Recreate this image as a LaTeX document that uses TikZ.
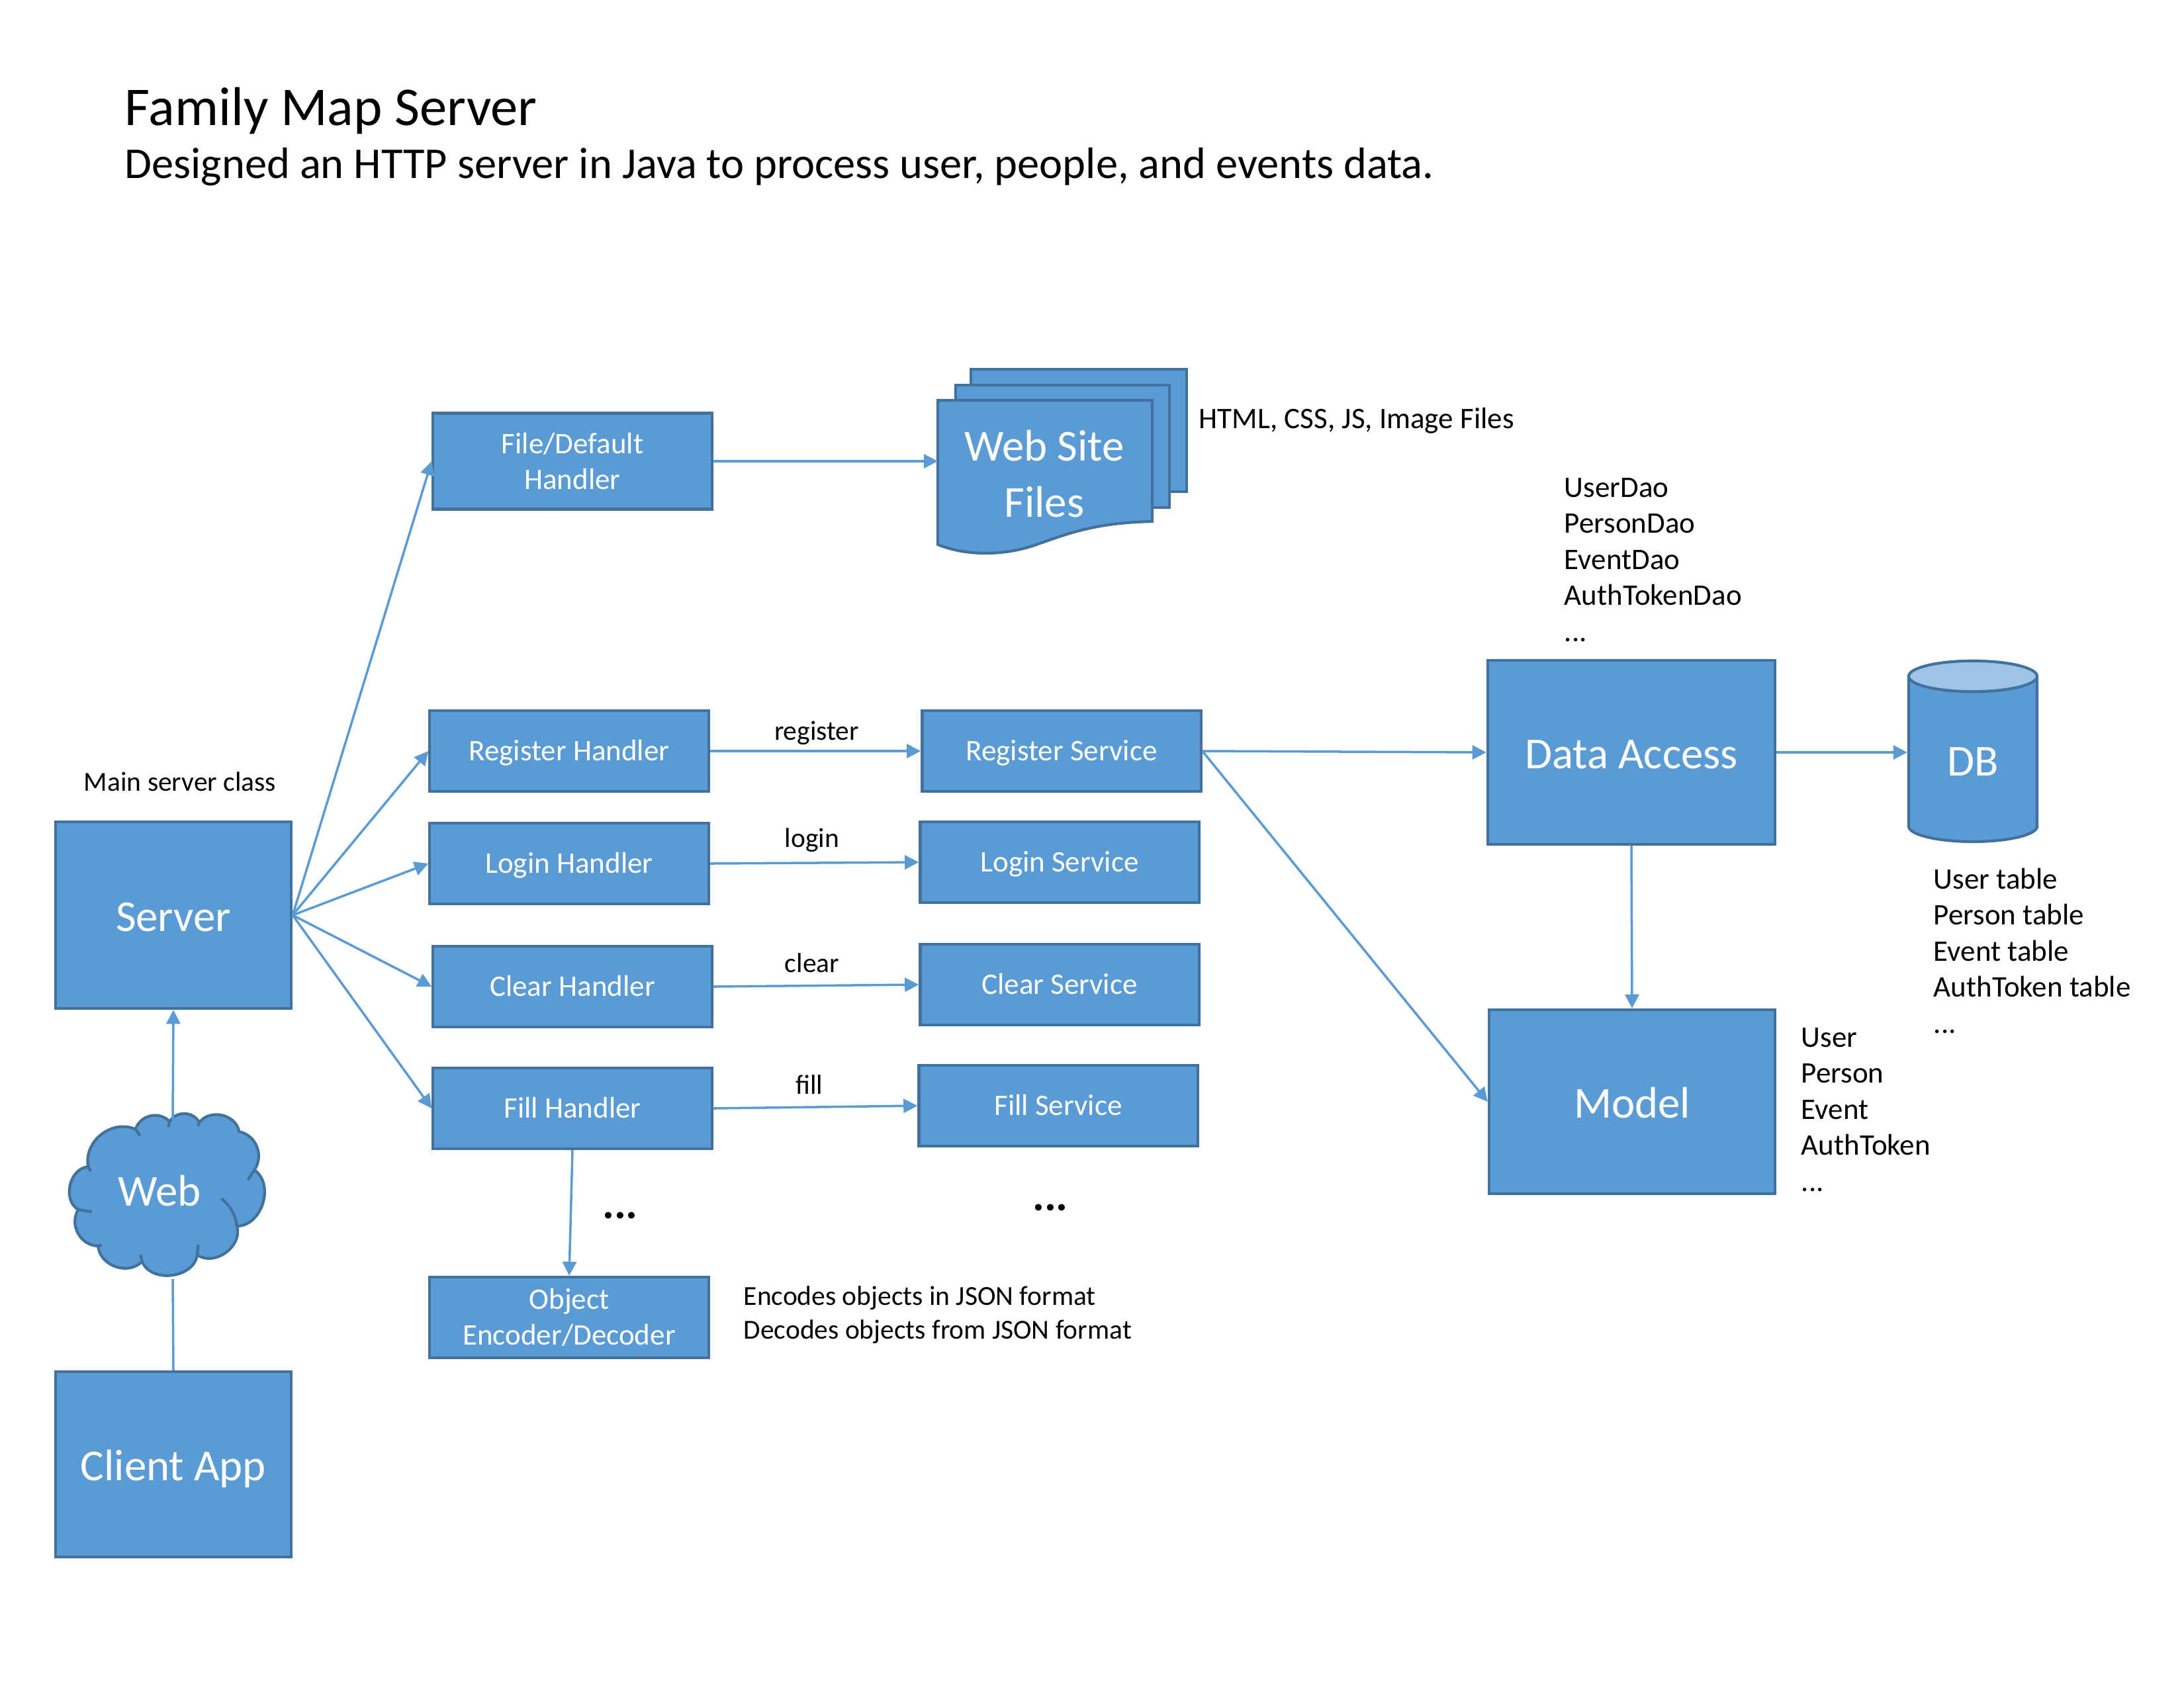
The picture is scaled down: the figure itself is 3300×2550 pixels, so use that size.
\documentclass[tikz,border=0pt]{standalone}
\usepackage{fontspec}
\setmainfont{Carlito}
\usetikzlibrary{arrows.meta,shapes.geometric}
\definecolor{box_blue}{RGB}{91,155,213}
\definecolor{edge_blue}{RGB}{65,113,156}
\definecolor{top_blue}{RGB}{157,195,230}
\newcommand{\bigfont}{\fontsize{19}{24}\selectfont}
\newcommand{\boxfont}{\fontsize{12.8}{15.5}\selectfont}
\newcommand{\notefont}{\fontsize{11.8}{14.4}\selectfont}

\begin{document}
\begin{tikzpicture}[->,line width=1pt,>={Triangle[length=6pt,width=6pt]},x=0.01cm,y=-0.01cm]
    \tikzstyle{base}=[draw=edge_blue, line width=1.2pt, fill=box_blue, text=white, inner sep=0pt]
    \tikzstyle{big}=[style=base, font=\bigfont, text height=13.7pt, text depth=0pt]
    \tikzstyle{small}=[style=base, font=\boxfont, align=center, minimum width=4.21cm, minimum height=1.22cm]
    \tikzstyle{one}=[style=base, font=\boxfont, minimum width=4.21cm, minimum height=1.22cm, text height=8pt, text depth=0pt]
    \tikzstyle{label}=[text=black, font=\boxfont, align=left, inner sep=0pt]
    \tikzstyle{flow}=[box_blue]
    \tikzstyle{sheet}=[-, draw=edge_blue, line width=1.2pt, fill=box_blue]

    \useasboundingbox (0,0) rectangle (3300,2550);

    \node[label, anchor=west, font=\fontsize{23.5}{28}\selectfont] (title) at (187,167) {Family Map Server};
    \node[label, anchor=west, font=\fontsize{18.9}{23}\selectfont] (subtitle) at (187,252) {Designed an HTTP server in Java to process user, people, and events data.};

    \node[big, minimum width=3.56cm, minimum height=2.82cm] (server) at (262,1383) {Server};
    \node[big, minimum width=3.56cm, minimum height=2.80cm] (client) at (262,2213) {Client App};
    \node[label, font=\notefont] (mainlabel) at (272,1181) {Main server class};

    % handlers
    \node[small, minimum height=1.45cm] (file) at (865,697) {File/Default\\Handler};
    \node[one] (regh) at (860,1135) {Register Handler};
    \node[one] (logh) at (860,1305) {Login Handler};
    \node[one] (clrh) at (865,1491) {Clear Handler};
    \node[one] (filh) at (865,1675) {Fill Handler};
    \node[small] (obj) at (860,1991) {Object\\Encoder/Decoder};

    % services
    \node[one] (regs) at (1604,1135) {Register Service};
    \node[one] (logs) at (1601,1303) {Login Service};
    \node[one] (clrs) at (1601,1488) {Clear Service};
    \node[one] (fils) at (1599,1671) {Fill Service};

    \node[big, minimum width=4.34cm, minimum height=2.78cm] (data) at (2465,1137) {Data Access};
    \node[big, minimum width=4.32cm, minimum height=2.78cm] (model) at (2466,1665) {Model};
    \node[big, cylinder, fill=none, shape border rotate=90, aspect=0.6, cylinder uses custom fill,
          cylinder body fill=box_blue, cylinder end fill=top_blue,
          minimum width=1.94cm, minimum height=2.73cm] (db) at (2981,1148) {DB};

    % web site files, three sheets
    \draw[sheet] (1467,558) -- (1793,558) -- (1793,743) -- (1467,743) -- cycle;
    \draw[sheet] (1444,582) -- (1767,582) -- (1767,767) -- (1444,767) -- cycle;
    \draw[sheet] (1417,605) -- (1741,605) -- (1741,788)
      .. controls (1650,790) and (1610,808) .. (1560,825)
      .. controls (1520,838) and (1465,842) .. (1417,823) -- cycle;
    \node[text=white, font=\bigfont, align=center, inner sep=0pt] (site) at (1578,716) {Web Site\\Files};
    \coordinate (sitewest) at (1417,697);

    % cloud, traced in a scope of its own
    \begin{scope}[shift={(50,1650)},x=0.00333cm,y=-0.00333cm]
      \draw[sheet, looseness=1.1]
        (620,135) to[bend left=62] (755,140) to[bend left=68] (935,180) to[bend left=55] (1005,355)
        to[bend left=72] (925,610) to[bend left=72] (745,740) to[bend left=76] (495,770)
        to[bend left=66] (295,700) to[bend left=60] (205,535) to[bend left=72] (250,340)
        to[bend left=62] (465,170) to[bend left=60] (620,135) -- cycle;
      \draw[-, draw=edge_blue, line width=1.2pt] (925,610) .. controls (920,560) and (895,515) .. (855,485)
        (620,135) -- (615,160) (755,140) -- (748,155) (1005,355) -- (975,400)
        (745,740) -- (750,695) (495,770) -- (488,740) (295,700) -- (312,695)
        (205,535) -- (268,545) (250,340) -- (262,360) (465,170) -- (485,198);
    \end{scope}
    \node[text=white, font=\bigfont, inner sep=0pt] (web) at (241,1799) {Web};
    \coordinate (webtop) at (261,1692);
    \coordinate (webbot) at (261,1933);

    % text beside the boxes
    \node[label, anchor=west] (htmlnote) at (1810,636) {HTML, CSS, JS, Image Files};
    \node[label, anchor=west] (daonote) at (2362,846) {UserDao\\PersonDao\\EventDao\\AuthTokenDao\\...};
    \node[label, anchor=west] (tablenote) at (2920,1437) {User table\\Person table\\Event table\\AuthToken table\\...};
    \node[label, anchor=west] (modelnote) at (2720,1677) {User\\Person\\Event\\AuthToken\\...};
    \node[label, anchor=west, font=\notefont] (jsonnote) at (1122,1987) {Encodes objects in JSON format\\Decodes objects from JSON format};
    \node[label, font=\notefont] (reglabel) at (1234,1108) {register};
    \node[label, font=\notefont] (loglabel) at (1227,1270) {login};
    \node[label, font=\notefont] (clrlabel) at (1227,1455) {clear};
    \node[label, font=\notefont] (fillabel) at (1223,1639) {fill};
    \node[label, font=\bigfont\bfseries] (dotsa) at (937,1837) {...};
    \node[label, font=\bigfont\bfseries] (dotsb) at (1587,1825) {...};

    \path
     (server.east) edge[flow] (file.west)
     (server.east) edge[flow] (regh.west)
     (server.east) edge[flow] (logh.west)
     (server.east) edge[flow] (clrh.west)
     (server.east) edge[flow] (filh.west)
     (file.east) edge[flow] (sitewest)
     (regh.east) edge[flow] (regs.west)
     (logh.east) edge[flow] (logs.west)
     (clrh.east) edge[flow] (clrs.west)
     (filh.east) edge[flow] (fils.west)
     (filh.south) edge[flow] (obj.north)
     (regs.east) edge[flow] (data.west)
     (regs.east) edge[flow] (model.west)
     (data.east) edge[flow] (data.east -| db.west)
     (data.south) edge[flow] (model.north)
     (webtop) edge[flow] (server.south)
     (client.north) edge[flow, -] (webbot)
     ;
\end{tikzpicture}
\end{document}
